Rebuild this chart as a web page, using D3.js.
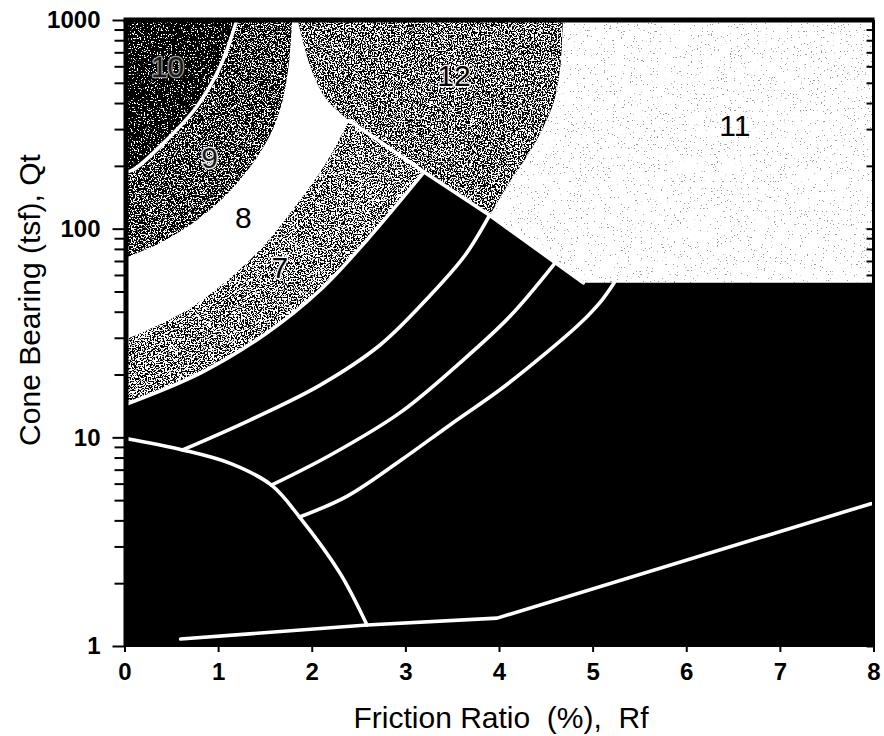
<!DOCTYPE html>
<html>
<head>
<meta charset="utf-8">
<script src="https://cdn.jsdelivr.net/npm/d3@7"></script>
<style>
  html, body { margin: 0; padding: 0; background: #fff; }
  svg { display: block; }
  text { font-family: "Liberation Sans", Arial, sans-serif; }
</style>
</head>
<body>
<script>
// Soil behaviour type chart: cone bearing Qt (tsf, log) against friction ratio Rf (%)

const rfTicks = [0, 1, 2, 3, 4, 5, 6, 7, 8];
const qtTicks = [1, 10, 100, 1000];

// Zone boundaries as [Rf, Qt] pairs
const line10to9   = [[1.20, 1000], [1.02, 595], [0.77, 383], [0.45, 266], [0.09, 191], [0, 187]];
const edge9to8    = [[1.79, 1000], [1.76, 643], [1.69, 414], [1.58, 297], [1.43, 225], [1.23, 171],
                     [1.00, 133], [0.70, 104], [0.36, 84.4], [0, 72.3]];
const edge8to7    = [[0, 29.3], [0.67, 40.8], [1.37, 73], [1.90, 142], [2.17, 213], [2.40, 330]];
const edge12Left  = [[1.85, 1000], [1.93, 718], [2.01, 557], [2.16, 414], [2.40, 330]];
const edge12Right = [[4.68, 1000], [4.66, 643], [4.59, 414], [4.43, 281], [4.27, 213], [4.11, 167], [3.90, 116]];
const diagonal    = [[2.40, 330], [3.20, 187], [3.90, 116], [4.90, 55]];
const zone11Floor = 55;
const line7to6    = [[0, 14.3], [0.81, 20.3], [1.52, 31.6], [2.09, 50.8], [2.59, 88.3], [3.20, 187]];
const line6to5    = [[0.62, 8.7], [1.34, 12.1], [2.09, 17.8], [2.73, 27.7], [3.26, 47.6], [3.64, 74.8], [3.90, 116]];
const line5to4    = [[1.57, 5.9], [2.20, 8.23], [2.94, 13.1], [3.58, 22.7], [4.12, 38.1], [4.60, 68.5]];
const line4to3    = [[1.87, 4.15], [2.38, 5.23], [2.94, 7.70], [3.48, 11.5], [4.01, 16.9], [4.49, 25.1],
                     [4.87, 35.3], [5.10, 45.5], [5.23, 55]];
const line1       = [[0, 9.9], [0.62, 8.7], [1.13, 7.5], [1.57, 5.9], [1.87, 4.15], [2.30, 2.24], [2.59, 1.26]];
const line2       = [[0.60, 1.08], [2.59, 1.26], [3.98, 1.36], [8, 4.85]];

// Zone numbers and where they sit [label, Rf, Qt]
const zoneLabels = [["10", 0.46, 602], ["9", 0.91, 220], ["8", 1.27, 113], ["7", 1.66, 65.5],
                    ["12", 3.52, 545], ["11", 6.52, 314]];

const W = 884, H = 736;
const svg = d3.select("body").append("svg").attr("width", W).attr("height", H);
const defs = svg.append("defs");

const x = d3.scaleLinear().domain([0, 8]).range([124.5, 873.5]);
const y = d3.scaleLog().domain([1, 1000]).range([646, 20]);

// speckled halftone fills
function grain(id, threshold, seed, floor) {
  const f = defs.append("filter").attr("id", id)
    .attr("filterUnits", "userSpaceOnUse").attr("x", 0).attr("y", 0)
    .attr("width", W).attr("height", H)
    .attr("color-interpolation-filters", "sRGB");
  f.append("feTurbulence").attr("type", "fractalNoise").attr("baseFrequency", 0.7)
    .attr("numOctaves", 2).attr("seed", seed).attr("result", "noise");
  f.append("feColorMatrix").attr("in", "noise").attr("type", "matrix")
    .attr("values", "1 0 0 0 0  1 0 0 0 0  1 0 0 0 0  0 0 0 0 1").attr("result", "gray");
  const slope = 25;
  const ct = f.append("feComponentTransfer").attr("in", "gray").attr("result", "bw");
  ["feFuncR", "feFuncG", "feFuncB"].forEach(fn =>
    ct.append(fn).attr("type", "linear").attr("slope", slope).attr("intercept", -slope * threshold));
  let last = "bw";
  if (floor > 0) {
    const ct2 = f.append("feComponentTransfer").attr("in", "bw").attr("result", "soft");
    ["feFuncR", "feFuncG", "feFuncB"].forEach(fn =>
      ct2.append(fn).attr("type", "linear").attr("slope", 1 - floor).attr("intercept", floor));
    last = "soft";
  }
  f.append("feComposite").attr("in", last).attr("in2", "SourceGraphic").attr("operator", "in");
}
grain("g10", 0.61, 3, 0);
grain("g9", 0.53, 7, 0);
grain("g7", 0.47, 11, 0);
grain("g12", 0.487, 17, 0);
grain("g11", 0.25, 23, 0.6);

const curved = d3.line().x(d => x(d[0])).y(d => y(d[1])).curve(d3.curveCatmullRom.alpha(0.5));
const straight = d3.line().x(d => x(d[0])).y(d => y(d[1]));
const rev = a => a.slice().reverse();
function poly(...parts) {
  return parts.map((p, i) => {
    const s = (p.curve ? curved : straight)(p.pts);
    return i ? s.replace(/^M/, "L") : s;
  }).join("") + "Z";
}

// base: the fine-grained zones are solid black
svg.append("rect")
  .attr("x", x(0)).attr("y", y(1000))
  .attr("width", x(8) - x(0)).attr("height", y(1) - y(1000))
  .attr("fill", "#000");

const zones = svg.append("g");

// zone 11
zones.append("path").attr("fill", "#fff").attr("filter", "url(#g11)")
  .attr("d", poly({ pts: [[4.68, 1000], [8, 1000], [8, zone11Floor], [4.90, zone11Floor], [3.90, 116]] },
                  { pts: rev(edge12Right), curve: true }));
// zone 12
zones.append("path").attr("fill", "#fff").attr("filter", "url(#g12)")
  .attr("d", poly({ pts: [[1.85, 1000], [4.68, 1000]] },
                  { pts: edge12Right, curve: true },
                  { pts: [[3.90, 116], [3.20, 187], [2.40, 330]] },
                  { pts: rev(edge12Left), curve: true }));
// zone 7 (painted under 8, 9, 10)
zones.append("path").attr("fill", "#fff").attr("filter", "url(#g7)")
  .attr("d", poly({ pts: [[0, 14.3], [0, 1000], [1.85, 1000]] },
                  { pts: edge12Left, curve: true },
                  { pts: [[2.40, 330], [3.20, 187]] },
                  { pts: rev(line7to6), curve: true }));
// zone 8
zones.append("path").attr("fill", "#fff")
  .attr("d", poly({ pts: [[0, 29.3], [0, 1000], [1.85, 1000]] },
                  { pts: edge12Left, curve: true },
                  { pts: rev(edge8to7), curve: true }));
// zone 9
zones.append("path").attr("fill", "#fff").attr("filter", "url(#g9)")
  .attr("d", poly({ pts: [[0, 72.3], [0, 1000], [1.79, 1000]] },
                  { pts: edge9to8, curve: true }));
// zone 10
zones.append("path").attr("fill", "#fff").attr("filter", "url(#g10)")
  .attr("d", poly({ pts: [[0, 187], [0, 1000], [1.20, 1000]] },
                  { pts: line10to9, curve: true }));

// white boundary lines
const lines = svg.append("g").attr("fill", "none").attr("stroke", "#fff")
  .attr("stroke-width", 3.6).attr("stroke-linejoin", "round").attr("stroke-linecap", "round");
[line10to9, line7to6, line6to5, line5to4, line4to3, line1].forEach(l =>
  lines.append("path").attr("d", curved(l)));
lines.append("path").attr("d", straight(diagonal));
lines.append("path").attr("d", straight(line2));

// zone numbers
const labelStyle = {
  "10": { fill: "#1a1a1a", stroke: "#9a9a9a", sw: 2.5 },
  "9":  { fill: "#1a1a1a", stroke: "#e6e6e6", sw: 3 },
  "8":  { fill: "#000", stroke: "none", sw: 0 },
  "7":  { fill: "#000", stroke: "#fff", sw: 3 },
  "12": { fill: "#000", stroke: "#fff", sw: 2.5 },
  "11": { fill: "#000", stroke: "none", sw: 0 }
};
svg.append("g").selectAll("text").data(zoneLabels).join("text")
  .attr("x", d => x(d[1])).attr("y", d => y(d[2])).attr("dy", "0.36em")
  .attr("text-anchor", "middle").attr("font-size", 30)
  .attr("fill", d => labelStyle[d[0]].fill)
  .attr("stroke", d => labelStyle[d[0]].stroke)
  .attr("stroke-width", d => labelStyle[d[0]].sw)
  .attr("stroke-linejoin", "round")
  .attr("paint-order", "stroke")
  .text(d => d[0]);

// frame
const frame = svg.append("g").attr("stroke", "#000").attr("fill", "none");
frame.append("line").attr("x1", x(0) - 1).attr("x2", x(8) + 1).attr("y1", y(1000)).attr("y2", y(1000)).attr("stroke-width", 5);
frame.append("line").attr("x1", x(0) + 1.5).attr("x2", x(0) + 1.5).attr("y1", y(1000)).attr("y2", y(1)).attr("stroke-width", 5);
frame.append("line").attr("x1", x(8)).attr("x2", x(8)).attr("y1", y(1000)).attr("y2", y(1)).attr("stroke-width", 3);
frame.append("line").attr("x1", x(0)).attr("x2", x(8)).attr("y1", y(1)).attr("y2", y(1)).attr("stroke-width", 2);

// y axis: labelled decades plus minor ticks
const minorQt = y.ticks().filter(v => !qtTicks.includes(v));
const yAxis = svg.append("g").attr("transform", `translate(${x(0)},0)`)
  .call(d3.axisLeft(y).tickValues(qtTicks).tickFormat(d3.format("d")).tickSize(12).tickPadding(12));
yAxis.select(".domain").remove();
yAxis.selectAll(".tick line").attr("stroke-width", 2);
yAxis.selectAll(".tick text").attr("font-size", 24).attr("font-weight", "bold")
  .attr("font-family", "'Liberation Sans', Arial, sans-serif").attr("fill", "#000");
const yMinor = svg.append("g").attr("transform", `translate(${x(0)},0)`)
  .call(d3.axisLeft(y).tickValues(minorQt).tickFormat("").tickSize(10));
yMinor.select(".domain").remove();
yMinor.selectAll(".tick line").attr("stroke-width", 2);

// inward ticks on the right frame
const yRight = svg.append("g").attr("transform", `translate(${x(8)},0)`)
  .call(d3.axisLeft(y).tickValues(y.ticks()).tickFormat("").tickSize(7));
yRight.select(".domain").remove();
yRight.selectAll(".tick line").attr("stroke-width", 2);

// x axis
const xAxis = svg.append("g").attr("transform", `translate(0,${y(1)})`)
  .call(d3.axisBottom(x).tickValues(rfTicks).tickFormat(d3.format("d")).tickSize(6).tickPadding(11));
xAxis.select(".domain").remove();
xAxis.selectAll(".tick line").attr("stroke-width", 2);
xAxis.selectAll(".tick text").attr("font-size", 24).attr("font-weight", "bold")
  .attr("font-family", "'Liberation Sans', Arial, sans-serif").attr("fill", "#000");

// axis titles
svg.append("text")
  .attr("x", 501).attr("y", 728).attr("text-anchor", "middle")
  .attr("font-size", 30).style("white-space", "pre")
  .text("Friction Ratio  (%),  Rf");
svg.append("text")
  .attr("transform", "translate(40,300) rotate(-90)").attr("text-anchor", "middle")
  .attr("font-size", 30)
  .text("Cone Bearing (tsf), Qt");
</script>
</body>
</html>
